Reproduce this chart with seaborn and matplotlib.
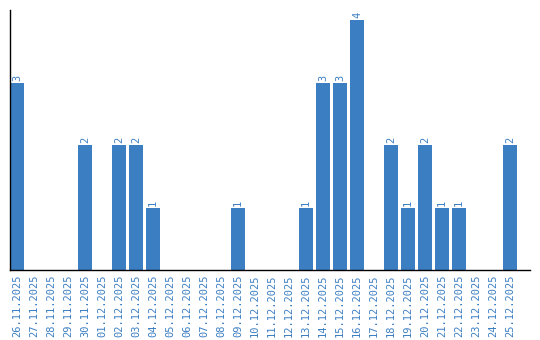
import matplotlib
matplotlib.use("Agg")
import matplotlib.pyplot as plt
import seaborn as sns
import pandas as pd

dates = ["26.11.2025", "27.11.2025", "28.11.2025", "29.11.2025", "30.11.2025",
         "01.12.2025", "02.12.2025", "03.12.2025", "04.12.2025", "05.12.2025",
         "06.12.2025", "07.12.2025", "08.12.2025", "09.12.2025", "10.12.2025",
         "11.12.2025", "12.12.2025", "13.12.2025", "14.12.2025", "15.12.2025",
         "16.12.2025", "17.12.2025", "18.12.2025", "19.12.2025", "20.12.2025",
         "21.12.2025", "22.12.2025", "23.12.2025", "24.12.2025", "25.12.2025"]
counts = [3, 0, 0, 0, 2, 0, 2, 2, 1, 0, 0, 0, 0, 1, 0,
          0, 0, 1, 3, 3, 4, 0, 2, 1, 2, 1, 1, 0, 0, 2]

BLUE = "#3b7ec2"
sns.set_style("white")
plt.rcParams["font.family"] = ["DejaVu Sans Mono", "DejaVu Sans"]

df = pd.DataFrame({"date": dates, "count": counts})
fig = plt.figure(figsize=(5.4, 3.4), dpi=100)
ax = fig.add_axes([10 / 540, 70 / 340, 520 / 540, 260 / 340])
sns.barplot(data=df, x="date", y="count", color=BLUE, saturation=1,
            width=14 / 17, ax=ax)
for p in ax.patches:
    p.set_edgecolor("none")

for i, v in enumerate(counts):
    if v > 0:
        ax.text(i, v + 0.03, str(v), rotation=90, ha="center", va="bottom",
                color=BLUE, fontsize=7.5)

ax.set_xlim(-7 / 17, -7 / 17 + 520 / 17)
ax.set_ylim(0, 260 / 62.5)
ax.set_xlabel("")
ax.set_ylabel("")
ax.set_yticks([])
ax.tick_params(axis="x", length=0, pad=3, labelsize=7.5, labelcolor=BLUE,
               rotation=90)
for s in ["top", "right"]:
    ax.spines[s].set_visible(False)
for s in ["left", "bottom"]:
    ax.spines[s].set_color("black")
    ax.spines[s].set_linewidth(1)

fig.savefig("out.png", dpi=100)
